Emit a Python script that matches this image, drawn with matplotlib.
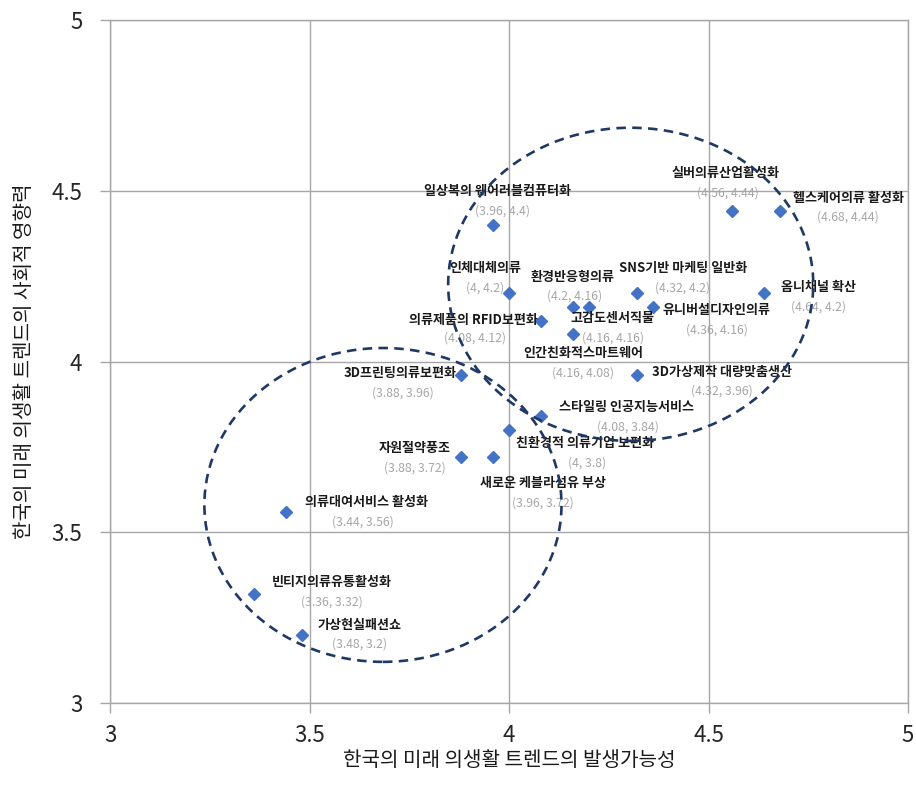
import matplotlib
matplotlib.use('Agg')
import matplotlib.pyplot as plt
from matplotlib.patches import Ellipse

plt.rcParams['font.family'] = ['Noto Sans CJK KR', 'DejaVu Sans']

# trend names, likelihood (x) and social impact (y)
names = [
    '일상복의 웨어러블컴퓨터화', '실버의류산업활성화', '헬스케어의류 활성화', '인체대체의류',
    '환경반응형의류', 'SNS기반 마케팅 일반화', '옴니채널 확산', '유니버설디자인의류',
    '의류제품의 RFID보편화', '고감도센서직물', '인간친화적스마트웨어', '3D가상제작 대량맞춤생산',
    '3D프린팅의류보편화', '스타일링 인공지능서비스', '친환경적 의류기업 보편화', '자원절약풍조',
    '새로운 케블라섬유 부상', '의류대여서비스 활성화', '빈티지의류유통활성화', '가상현실패션쇼',
]
likelihood = [3.96, 4.56, 4.68, 4.00, 4.20, 4.32, 4.64, 4.36, 4.08, 4.16,
              4.16, 4.32, 3.88, 4.08, 4.00, 3.88, 3.96, 3.44, 3.36, 3.48]
impact = [4.40, 4.44, 4.44, 4.20, 4.16, 4.20, 4.20, 4.16, 4.12, 4.16,
          4.08, 3.96, 3.96, 3.84, 3.80, 3.72, 3.72, 3.56, 3.32, 3.20]

# label offsets in pixels: (name dx, name dy, coord dx, coord dy)
offsets = [
    (4, 34, 9, 14), (-7, 38, -5, 18), (68, 13, 68, -6), (-24, 25, -24, 5),
    (-16, 30, -14, 11), (46, 25, 46, 5), (54, 6, 54, -14), (64, -3, 64, -23),
    (-68, 1, -66, -18), (40, -11, 40, -31), (10, -19, 10, -39), (85, 4, 85, -16),
    (-61, 2, -58, -18), (86, 9, 87, -11), (76, -13, 78, -33), (-46, 9, -46, -11),
    (50, -26, 50, -46), (81, 10, 77, -10), (78, 12, 78, -8), (58, 10, 58, -9),
]

# dashed group outlines: (center x, center y, width, height)
groups = [(4.305, 4.226, 0.915, 0.917), (3.684, 3.580, 0.895, 0.919)]

fig = plt.figure(figsize=(9.16, 7.9), dpi=100)
ax = fig.add_axes([0.1201, 0.1101, 0.8712, 0.8646])

ax.plot(likelihood, impact, 'D', color='#4472c4', markersize=6.5, zorder=3)

for n, x, y, (ndx, ndy, cdx, cdy) in zip(names, likelihood, impact, offsets):
    ax.annotate(n, (x, y), xytext=(ndx, ndy), textcoords='offset pixels',
                ha='center', va='center', fontsize=9.4, fontweight='bold',
                color='#1a1a1a', zorder=4)
    ax.annotate(f'({x:g}, {y:g})', (x, y), xytext=(cdx, cdy), textcoords='offset pixels',
                ha='center', va='center', fontsize=8.8, color='#a6a6a6', zorder=4)

for cx, cy, w, h in groups:
    ax.add_patch(Ellipse((cx, cy), w, h, fill=False, edgecolor='#1f3864',
                         linewidth=1.9, linestyle=(0, (3.6, 2.4)), zorder=5))

ax.set_xlim(3, 5)
ax.set_ylim(3, 5)
ax.set_xticks([3, 3.5, 4, 4.5, 5])
ax.set_yticks([3, 3.5, 4, 4.5, 5])
ax.set_xticklabels(['3', '3.5', '4', '4.5', '5'])
ax.set_yticklabels(['3', '3.5', '4', '4.5', '5'])
ax.grid(True, color='#a6a6a6', linewidth=1)
ax.set_axisbelow(True)
for s in ax.spines.values():
    s.set_color('#a6a6a6')
    s.set_linewidth(1)
ax.tick_params(length=7, width=1, color='#a6a6a6', labelsize=16, labelcolor='#262626')
ax.tick_params(axis='x', pad=8)
ax.tick_params(axis='y', pad=13)

ax.set_xlabel('한국의 미래 의생활 트렌드의 발생가능성', fontsize=14.5, color='#1a1a1a', labelpad=2)
ax.set_ylabel('한국의 미래 의생활 트렌드의 사회적 영향력', fontsize=14.5, color='#1a1a1a', labelpad=12)

fig.savefig('out.png', dpi=100, facecolor='white')
